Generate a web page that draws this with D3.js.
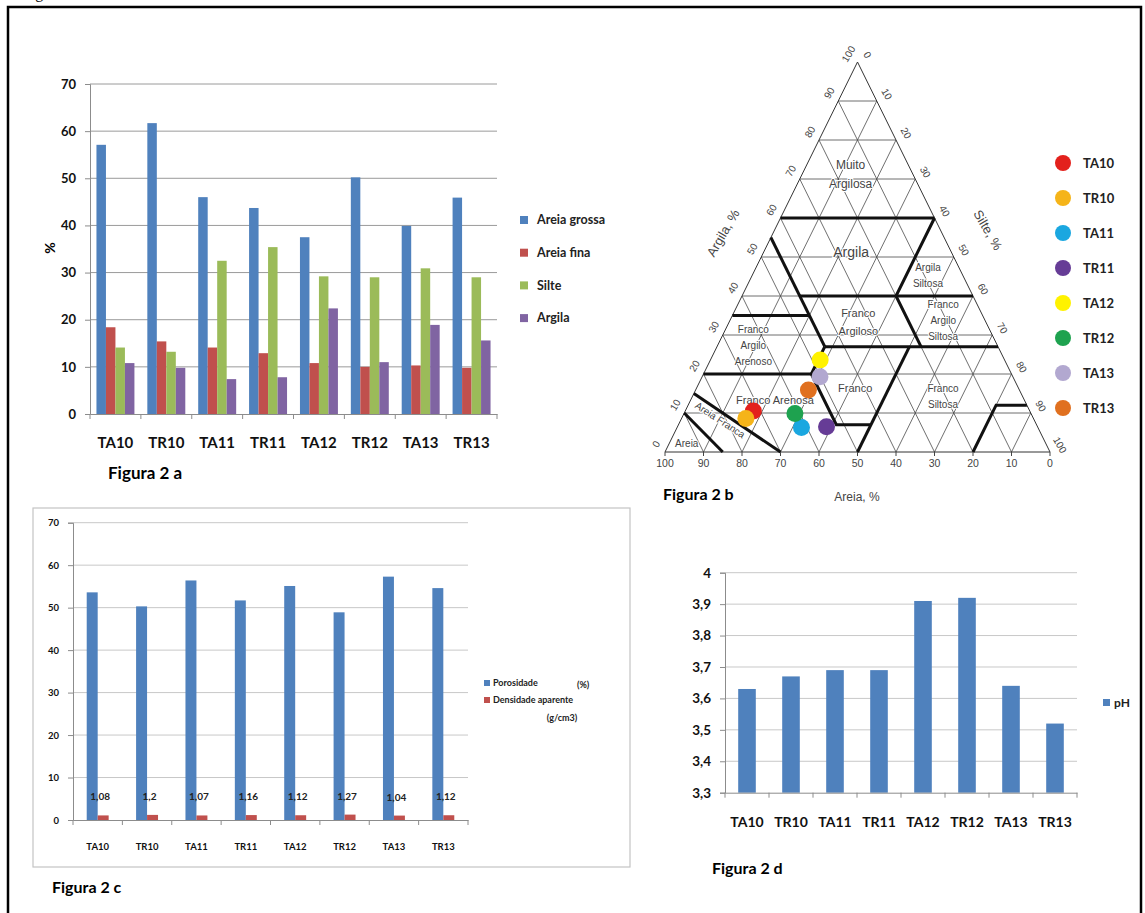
<!DOCTYPE html>
<html>
<head>
<meta charset="utf-8">
<script src="https://d3js.org/d3.v7.min.js"></script>
<style>
  body { margin: 0; background: #fff; }
  svg text { font-family: Lato, "Liberation Sans", sans-serif; }
</style>
</head>
<body>
<script>
// amostras e valores
const amostras = ["TA10", "TR10", "TA11", "TR11", "TA12", "TR12", "TA13", "TR13"];

// Figura 2 a - granulometria (%)
const fracoes = ["Areia grossa", "Areia fina", "Silte", "Argila"];
const areiaGrossa = [57.1, 61.7, 46.0, 43.7, 37.5, 50.2, 39.9, 45.9];
const areiaFina = [18.4, 15.4, 14.1, 12.9, 10.8, 10.0, 10.3, 9.8];
const silte = [14.1, 13.2, 32.5, 35.4, 29.2, 29.0, 30.9, 29.0];
const argila = [10.8, 9.8, 7.4, 7.8, 22.4, 11.0, 18.9, 15.6];

// Figura 2 b - posicao no triangulo textural (areia %, argila %)
const texAreia = [71.8, 74.7, 61.4, 54.8, 47.9, 61.3, 50.1, 54.8];
const texArgila = [10.5, 8.6, 6.3, 6.5, 23.6, 9.9, 19.3, 15.9];
const coresAmostra = ["#e3211c", "#f5b419", "#1aa7e0", "#663c96", "#fff200", "#1ea24f", "#b2a8d0", "#e0701f"];

// Figura 2 c - porosidade (%) e densidade aparente (g/cm3)
const porosidade = [53.6, 50.3, 56.4, 51.7, 55.1, 48.9, 57.3, 54.6];
const densidade = [1.08, 1.2, 1.07, 1.16, 1.12, 1.27, 1.04, 1.12];

// Figura 2 d - pH
const ph = [3.63, 3.67, 3.69, 3.69, 3.91, 3.92, 3.64, 3.52];

const azul = "#4F81BD", vermelho = "#C0504D", verde = "#9BBB59", roxo = "#8064A2";
const br = d3.formatLocale({decimal: ",", thousands: ".", grouping: [3], currency: ["R$", ""]});

const svg = d3.select("body").append("svg")
    .attr("width", 1145)
    .attr("height", 913);

// moldura
svg.append("rect")
    .attr("x", 8).attr("y", 7).attr("width", 1133).attr("height", 940)
    .attr("fill", "none").attr("stroke", "#000").attr("stroke-width", 2.5);
svg.append("text")
    .attr("x", 22).attr("y", -2)
    .style("font-family", "'Liberation Serif', serif")
    .attr("font-size", 16)
    .text("Figura 2");

function eixoY(g, scale, ticks, fmt, fs) {
  const ax = g.append("g")
      .attr("transform", `translate(${scale.xPos},0)`)
      .call(d3.axisLeft(scale).ticks(ticks).tickFormat(fmt).tickSize(5).tickPadding(9));
  ax.select(".domain").attr("stroke", "#8c8c8c");
  ax.selectAll(".tick line").attr("stroke", "#8c8c8c");
  ax.selectAll("text").attr("font-size", fs).attr("font-weight", "bold").attr("fill", "#111");
  return ax;
}

function grade(g, scale, ticks, x0, x1, cor) {
  g.append("g").selectAll("line")
    .data(scale.ticks(ticks).slice(1))
    .join("line")
      .attr("x1", x0).attr("x2", x1)
      .attr("y1", d => scale(d)).attr("y2", d => scale(d))
      .attr("stroke", cor);
}

function eixoX(g, x, y0, pad, fs) {
  const ax = g.append("g")
      .attr("transform", `translate(0,${y0})`)
      .call(d3.axisBottom(x).tickSize(0).tickPadding(pad));
  ax.select(".domain").attr("stroke", "#8c8c8c");
  ax.selectAll("text").attr("font-size", fs).attr("font-weight", "bold").attr("fill", "#111");
  // marcas entre categorias
  g.append("g").selectAll("line")
    .data(d3.range(amostras.length + 1))
    .join("line")
      .attr("x1", i => x.range()[0] + i * x.step())
      .attr("x2", i => x.range()[0] + i * x.step())
      .attr("y1", y0).attr("y2", y0 + 5)
      .attr("stroke", "#8c8c8c");
}

// ---------------- Figura 2 a ----------------
const ga = svg.append("g");
const xa = d3.scaleBand().domain(amostras).range([90, 497]);
const ya = d3.scaleLinear().domain([0, 70]).range([414, 84]);
ya.xPos = 90;
const xa1 = d3.scaleBand().domain(fracoes).range([0, xa.bandwidth()]).paddingOuter(0.68);
const valoresA = [areiaGrossa, areiaFina, silte, argila];
const coresA = [azul, vermelho, verde, roxo];

grade(ga, ya, 7, 90, 497, "#9a9a9a");
ga.selectAll("rect.barA")
  .data(fracoes.flatMap((f, i) => amostras.map((s, j) => ({f, s, v: valoresA[i][j], c: coresA[i]}))))
  .join("rect")
    .attr("x", d => xa(d.s) + xa1(d.f))
    .attr("y", d => ya(d.v))
    .attr("width", xa1.bandwidth())
    .attr("height", d => ya(0) - ya(d.v))
    .attr("fill", d => d.c);
eixoY(ga, ya, 7, d3.format("d"), 13);
eixoX(ga, xa, 414, 23, 15);
ga.append("text")
    .attr("transform", "translate(49,248) rotate(-90)")
    .attr("text-anchor", "middle").attr("dominant-baseline", "central")
    .attr("font-size", 14).attr("font-weight", "bold")
    .text("%");

const legA = ga.append("g").selectAll("g")
  .data(fracoes)
  .join("g")
    .attr("transform", (d, i) => `translate(520,${220 + i * 32.7})`);
legA.append("rect").attr("x", 0).attr("y", -4).attr("width", 8).attr("height", 8)
    .attr("fill", (d, i) => coresA[i]);
legA.append("text").attr("x", 17).attr("dy", "0.35em")
    .attr("font-size", 12.5).attr("font-weight", "bold").attr("fill", "#222")
    .text(d => d);

ga.append("text").attr("x", 108).attr("y", 479)
    .attr("font-size", 17).attr("font-weight", "bold")
    .text("Figura 2 a");

// ---------------- Figura 2 b ----------------
const gb = svg.append("g");
const tx = d3.scaleLinear().domain([0, 100]).range([665, 1050]);
const ty = d3.scaleLinear().domain([0, 100]).range([452, 62]);
const proj = (ar, ag) => [tx(100 - ar - ag + ag / 2), ty(ag)];
const linhaT = d3.line().x(d => proj(d[0], d[1])[0]).y(d => proj(d[0], d[1])[1]);
const fonteT = "'Liberation Sans', Arial, sans-serif";

const dez = d3.range(10, 100, 10);
const linhasGrade = dez.flatMap(v => [
  [[100 - v, v], [0, v]],
  [[v, 0], [v, 100 - v]],
  [[100 - v, 0], [0, 100 - v]]
]);
gb.selectAll("path.grade")
  .data(linhasGrade)
  .join("path")
    .attr("d", linhaT)
    .attr("fill", "none").attr("stroke", "#4a4a4a").attr("stroke-width", 0.8);
gb.append("path")
    .attr("d", linhaT([[100, 0], [0, 100], [0, 0], [100, 0]]))
    .attr("fill", "none").attr("stroke", "#333").attr("stroke-width", 1);

// limites das classes texturais (areia, argila)
const limites = [
  [[40, 60], [0, 60]],
  [[45, 55], [45, 27]],
  [[65, 35], [45, 35]],
  [[45, 40], [0, 40]],
  [[0, 60], [20, 40], [20, 27]],
  [[45, 27], [0, 27]],
  [[45, 27], [52, 20], [52, 7], [43, 7]],
  [[80, 20], [52, 20]],
  [[23, 27], [50, 0]],
  [[20, 0], [8, 12], [0, 12]],
  [[85, 15], [70, 0]],
  [[90, 10], [85, 0]]
];
gb.selectAll("path.lim")
  .data(limites)
  .join("path")
    .attr("d", linhaT)
    .attr("fill", "none").attr("stroke", "#111").attr("stroke-width", 3);

const classes = [
  {nome: ["Muito", "Argilosa"], ar: 15, ag: 73.6, fs: 12, lh: 19},
  {nome: ["Argila"], ar: 26, ag: 51.3, fs: 14, lh: 16},
  {nome: ["Argila", "Siltosa"], ar: 8, ag: 47.4, fs: 10, lh: 16},
  {nome: ["Franco", "Argilo", "Siltosa"], ar: 8.9, ag: 37.7, fs: 10, lh: 16},
  {nome: ["Franco", "Argiloso"], ar: 32, ag: 35.6, fs: 11, lh: 18},
  {nome: ["Franco", "Argilo", "Arenoso"], ar: 61.4, ag: 31.3, fs: 10, lh: 16},
  {nome: ["Franco"], ar: 42.4, ag: 16.4, fs: 11, lh: 16},
  {nome: ["Franco", "Siltosa"], ar: 19.6, ag: 16.4, fs: 10, lh: 16},
  {nome: ["Franco Arenosa"], ar: 64.8, ag: 13.3, fs: 11, lh: 16},
  {nome: ["Areia Franca"], ar: 81.6, ag: 8.2, fs: 10, lh: 16, rot: 33},
  {nome: ["Areia"], ar: 93.2, ag: 2.3, fs: 10, lh: 16}
];
const rot = gb.selectAll("text.classe")
  .data(classes)
  .join("text")
    .attr("transform", d => `translate(${proj(d.ar, d.ag)}) rotate(${d.rot || 0})`)
    .attr("text-anchor", "middle")
    .attr("font-size", d => d.fs)
    .style("font-family", fonteT)
    .attr("fill", "#444")
    .attr("stroke", "#fff").attr("stroke-width", 2).attr("paint-order", "stroke");
rot.selectAll("tspan")
  .data(d => d.nome.map((t, i) => ({t, i, lh: d.lh})))
  .join("tspan")
    .attr("x", 0).attr("y", d => d.i * d.lh)
    .attr("dy", "0.35em")
    .text(d => d.t);

const passos = d3.range(0, 101, 10);
gb.selectAll("line.tk")
  .data(passos)
  .join("line")
    .attr("x1", v => proj(v, 0)[0]).attr("x2", v => proj(v, 0)[0])
    .attr("y1", ty(0)).attr("y2", ty(0) + 4)
    .attr("stroke", "#444");
gb.selectAll("text.tb")
  .data(passos)
  .join("text")
    .attr("x", v => proj(v, 0)[0]).attr("y", ty(0) + 15)
    .attr("text-anchor", "middle").attr("font-size", 10.5)
    .style("font-family", fonteT).attr("fill", "#444")
    .text(v => v);
gb.selectAll("text.tl")
  .data(passos)
  .join("text")
    .attr("transform", v => { const p = proj(100 - v, v); return `translate(${p[0] - 9},${p[1] - 8}) rotate(-60)`; })
    .attr("text-anchor", "middle").attr("dy", "0.35em").attr("font-size", 10)
    .style("font-family", fonteT).attr("fill", "#444")
    .text(v => v);
gb.selectAll("text.tr")
  .data(passos)
  .join("text")
    .attr("transform", v => { const p = proj(0, 100 - v); return `translate(${p[0] + 10},${p[1] - 7}) rotate(60)`; })
    .attr("text-anchor", "middle").attr("dy", "0.35em").attr("font-size", 10)
    .style("font-family", fonteT).attr("fill", "#444")
    .text(v => v);

gb.append("text").attr("transform", "translate(723,233) rotate(-60)")
    .attr("text-anchor", "middle").attr("dy", "0.35em").attr("font-size", 13)
    .style("font-family", fonteT).attr("fill", "#444").text("Argila, %");
gb.append("text").attr("transform", "translate(988,230) rotate(60)")
    .attr("text-anchor", "middle").attr("dy", "0.35em").attr("font-size", 13)
    .style("font-family", fonteT).attr("fill", "#444").text("Silte, %");
gb.append("text").attr("x", 857).attr("y", 501)
    .attr("text-anchor", "middle").attr("font-size", 12)
    .style("font-family", fonteT).attr("fill", "#444").text("Areia, %");

gb.selectAll("circle.amostra")
  .data(amostras)
  .join("circle")
    .attr("cx", (d, i) => proj(texAreia[i], texArgila[i])[0])
    .attr("cy", (d, i) => proj(texAreia[i], texArgila[i])[1])
    .attr("r", 8.5)
    .attr("fill", (d, i) => coresAmostra[i]);

const yLeg = d3.scalePoint().domain(amostras).range([163, 408]);
const legB = gb.append("g").selectAll("g")
  .data(amostras)
  .join("g")
    .attr("transform", d => `translate(1063,${yLeg(d)})`);
legB.append("circle").attr("r", 8).attr("fill", (d, i) => coresAmostra[i]);
legB.append("text").attr("x", 20).attr("dy", "0.35em")
    .attr("font-size", 13).attr("font-weight", "bold").attr("fill", "#222")
    .text(d => d);

gb.append("text").attr("x", 663).attr("y", 500)
    .attr("font-size", 16).attr("font-weight", "bold")
    .text("Figura 2 b");

// ---------------- Figura 2 c ----------------
const gc = svg.append("g");
gc.append("rect")
    .attr("x", 33).attr("y", 508).attr("width", 597).attr("height", 359)
    .attr("fill", "#fff").attr("stroke", "#c4c4c4").attr("stroke-width", 1.2);
const xc = d3.scaleBand().domain(amostras).range([73, 468]);
const yc = d3.scaleLinear().domain([0, 70]).range([820, 522.7]);
yc.xPos = 73;
const seriesC = ["Porosidade", "Densidade aparente"];
const xc1 = d3.scaleBand().domain(seriesC).range([0, xc.bandwidth()]).paddingOuter(1.25);

grade(gc, yc, 7, 73, 468, "#c8c8c8");
gc.selectAll("rect.por")
  .data(amostras)
  .join("rect")
    .attr("x", d => xc(d) + xc1(seriesC[0]))
    .attr("y", (d, i) => yc(porosidade[i]))
    .attr("width", xc1.bandwidth())
    .attr("height", (d, i) => yc(0) - yc(porosidade[i]))
    .attr("fill", azul);
gc.selectAll("rect.den")
  .data(amostras)
  .join("rect")
    .attr("x", d => xc(d) + xc1(seriesC[1]))
    .attr("y", (d, i) => yc(densidade[i]))
    .attr("width", xc1.bandwidth())
    .attr("height", (d, i) => yc(0) - yc(densidade[i]))
    .attr("fill", vermelho);
gc.selectAll("text.val")
  .data(amostras)
  .join("text")
    .attr("x", d => xc(d) + xc1(seriesC[1]) + xc1.bandwidth() / 2 - 3)
    .attr("y", (d, i) => yc(densidade[i]) - 15)
    .attr("text-anchor", "middle")
    .attr("font-size", 10).attr("font-weight", "bold").attr("fill", "#222")
    .text((d, i) => br.format("~g")(densidade[i]));
eixoY(gc, yc, 7, d3.format("d"), 9.5);
eixoX(gc, xc, 820, 23, 9.5);

const legC = gc.append("g");
legC.append("rect").attr("x", 484).attr("y", 680).attr("width", 6).attr("height", 6).attr("fill", azul);
legC.append("rect").attr("x", 484).attr("y", 697).attr("width", 6).attr("height", 6).attr("fill", vermelho);
legC.append("text").attr("x", 493).attr("y", 683).attr("dy", "0.35em")
    .attr("font-size", 9).attr("font-weight", "bold").attr("fill", "#222").text(seriesC[0]);
legC.append("text").attr("x", 577).attr("y", 685).attr("dy", "0.35em")
    .attr("font-size", 9).attr("font-weight", "bold").attr("fill", "#222").text("(%)");
legC.append("text").attr("x", 493).attr("y", 700).attr("dy", "0.35em")
    .attr("font-size", 9).attr("font-weight", "bold").attr("fill", "#222").text(seriesC[1]);
legC.append("text").attr("x", 562).attr("y", 718).attr("dy", "0.35em").attr("text-anchor", "middle")
    .attr("font-size", 9).attr("font-weight", "bold").attr("fill", "#222").text("(g/cm3)");

gc.append("text").attr("x", 52).attr("y", 893)
    .attr("font-size", 16).attr("font-weight", "bold")
    .text("Figura 2 c");

// ---------------- Figura 2 d ----------------
const gd = svg.append("g");
const xd = d3.scaleBand().domain(amostras).range([725, 1077]);
const yd = d3.scaleLinear().domain([3.3, 4]).range([792.7, 572.7]);
yd.xPos = 725;
const xd1 = d3.scaleBand().domain(["pH"]).range([0, xd.bandwidth()]).paddingOuter(0.75);

grade(gd, yd, 7, 725, 1077, "#c8c8c8");
gd.selectAll("rect.ph")
  .data(amostras)
  .join("rect")
    .attr("x", d => xd(d) + xd1("pH"))
    .attr("y", (d, i) => yd(ph[i]))
    .attr("width", xd1.bandwidth())
    .attr("height", (d, i) => yd(3.3) - yd(ph[i]))
    .attr("fill", azul);
eixoY(gd, yd, 7, br.format(".1~f"), 13.5);
eixoX(gd, xd, 792.7, 24, 14);

gd.append("rect").attr("x", 1103).attr("y", 699).attr("width", 7).attr("height", 7).attr("fill", azul);
gd.append("text").attr("x", 1114).attr("y", 703).attr("dy", "0.35em")
    .attr("font-size", 12).attr("font-weight", "bold").attr("fill", "#222").text("pH");

gd.append("text").attr("x", 712).attr("y", 874)
    .attr("font-size", 16).attr("font-weight", "bold")
    .text("Figura 2 d");
</script>
</body>
</html>
